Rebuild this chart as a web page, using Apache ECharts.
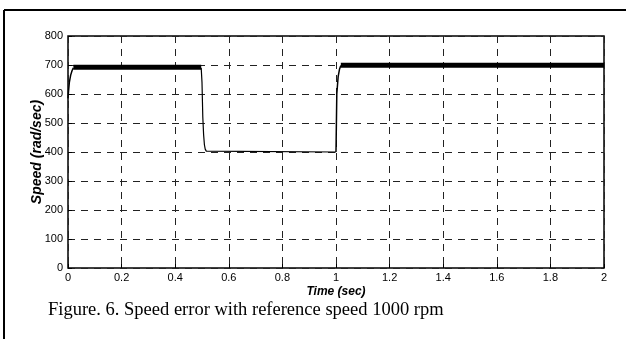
<!DOCTYPE html>
<html><head><meta charset="utf-8">
<script src="https://cdn.jsdelivr.net/npm/echarts@6/dist/echarts.min.js"></script>
<style>html,body{margin:0;padding:0;background:#fff}#c{width:626px;height:339px}</style>
</head><body><div id="c"></div>
<script>
// Time ticks and speed ticks
var xTicks = [0, 0.2, 0.4, 0.6, 0.8, 1, 1.2, 1.4, 1.6, 1.8, 2];
var yTicks = [0, 100, 200, 300, 400, 500, 600, 700, 800];
// Transient parts of the speed curve [time, speed]
var startupTime = [0, 0.002, 0.005, 0.01, 0.015, 0.02];
var startupSpeed = [585, 610, 640, 665, 680, 690];
var dropTime = [0.497, 0.5, 0.503, 0.506, 0.509, 0.512, 0.516, 0.522, 1.0];
var dropSpeed = [690, 640, 520, 460, 425, 410, 403, 400, 400];
var riseTime = [1.0, 1.003, 1.008, 1.013, 1.018];
var riseSpeed = [400, 600, 660, 685, 698];
// Steady oscillating bands (drawn as thick lines) [time, speed]
var band1Time = [0.02, 0.497];
var band1Speed = [692, 692];
var band2Time = [1.018, 2];
var band2Speed = [699, 699];

function pairs(t, v) { return t.map(function (x, i) { return [x, v[i]]; }); }

var chart = echarts.init(document.getElementById('c'));
var font = 'Liberation Sans, Arial, sans-serif';
chart.setOption({
  animation: false,
  grid: { left: 68, right: 22, top: 36, bottom: 71, show: true, borderColor: '#000', borderWidth: 1.5 },
  xAxis: {
    type: 'value', min: 0, max: 2, interval: 0.2,
    name: 'Time (sec)', nameLocation: 'middle', nameGap: 18, nameMoveOverlap: false,
    nameTextStyle: { fontFamily: font, fontSize: 12, fontWeight: 'bold', fontStyle: 'italic', color: '#000' },
    axisLine: { show: false },
    axisTick: { show: true, inside: true, length: 4, lineStyle: { color: '#000' } },
    axisLabel: { fontFamily: font, fontSize: 11, color: '#000', margin: 4,
      formatter: function (v) { var r = xTicks.find(function (t) { return Math.abs(t - v) < 1e-9; }); return r === undefined ? '' : String(r); } },
    splitLine: { show: true, lineStyle: { color: '#222', type: [7, 6], width: 1 } }
  },
  yAxis: {
    type: 'value', min: 0, max: 800, interval: 100,
    name: 'Speed (rad/sec)', nameLocation: 'middle', nameGap: 24, nameRotate: 90, nameMoveOverlap: false,
    nameTextStyle: { fontFamily: font, fontSize: 14, fontWeight: 'bold', fontStyle: 'italic', color: '#000' },
    axisLine: { show: false },
    axisTick: { show: true, inside: true, length: 4, lineStyle: { color: '#000' } },
    axisLabel: { fontFamily: font, fontSize: 11, color: '#000', margin: 5,
      formatter: function (v) { return yTicks.indexOf(v) >= 0 ? String(v) : ''; } },
    splitLine: { show: true, lineStyle: { color: '#222', type: [7, 6], width: 1 } }
  },
  series: [
    { type: 'line', data: pairs(startupTime, startupSpeed), showSymbol: false, lineStyle: { color: '#000', width: 1.5 } },
    { type: 'line', data: pairs(band1Time, band1Speed), showSymbol: false, lineStyle: { color: '#000', width: 5 } },
    { type: 'line', data: pairs(dropTime, dropSpeed), showSymbol: false, lineStyle: { color: '#000', width: 1.2 } },
    { type: 'line', data: pairs(riseTime, riseSpeed), showSymbol: false, lineStyle: { color: '#000', width: 1.5 } },
    { type: 'line', data: pairs(band2Time, band2Speed), showSymbol: false, lineStyle: { color: '#000', width: 5 } }
  ],
  graphic: [
    { type: 'line', shape: { x1: 4, y1: 10, x2: 626, y2: 10 }, style: { stroke: '#000', lineWidth: 2 } },
    { type: 'line', shape: { x1: 4, y1: 10, x2: 4, y2: 339 }, style: { stroke: '#000', lineWidth: 2 } },
    { type: 'text', left: 48, top: 301, style: { text: 'Figure. 6. Speed error with reference speed 1000 rpm', font: '18.5px "Liberation Serif", "Times New Roman", serif', fill: '#000' } }
  ]
});
</script></body></html>
